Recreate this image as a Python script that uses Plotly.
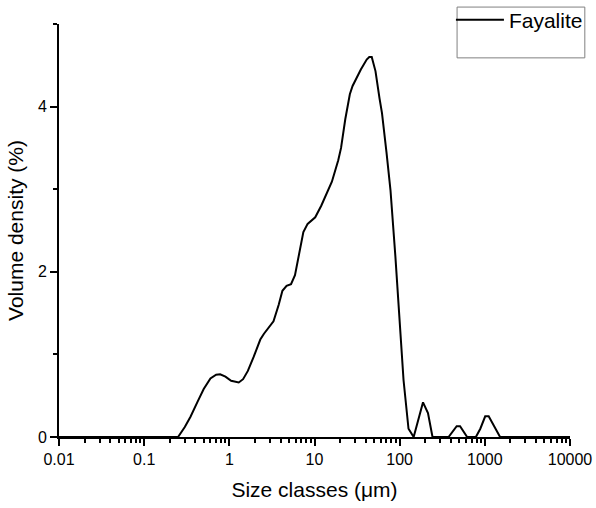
import plotly.graph_objects as go

size_um = [0.01, 0.25, 0.30, 0.35, 0.42, 0.50, 0.60, 0.70, 0.78, 0.90, 1.05, 1.29, 1.45, 1.65, 1.93, 2.31, 2.55, 2.9, 3.3,
           3.8, 4.2, 4.7, 5.3, 5.9, 6.6, 7.4, 8.3, 9.2, 10.2, 12.0, 14.0, 16.0, 19.0, 20.5, 23.0,
           26.0, 28.0, 31.0, 35.0, 41.0, 44.0, 47.0, 52.0, 58.0, 62.0, 70.0, 78.0, 89.0, 100.0,
           111.0, 127.0, 146.0, 188.0, 215.0, 243.0, 375.0, 467.0, 512.0, 620.0, 785.0, 885.0, 1010.0,
           1110.0, 1510.0, 10000.0]
volume_pct = [0.0, 0.0, 0.12, 0.245, 0.42, 0.58, 0.71, 0.755, 0.76, 0.73, 0.68, 0.66, 0.70, 0.80, 0.97, 1.18, 1.25, 1.32, 1.40,
              1.60, 1.77, 1.83, 1.85, 1.96, 2.20, 2.48, 2.58, 2.62, 2.66, 2.80, 2.95, 3.09, 3.35, 3.50, 3.85,
              4.15, 4.25, 4.35, 4.45, 4.57, 4.60, 4.60, 4.43, 4.10, 3.92, 3.45, 2.99, 2.19, 1.41,
              0.69, 0.10, 0.0, 0.42, 0.29, 0.0, 0.0, 0.13, 0.13, 0.0, 0.0, 0.10, 0.25,
              0.25, 0.0, 0.0]

x_tick_vals = [0.01, 0.1, 1, 10, 100, 1000, 10000]
x_tick_text = ["0.01", "0.1", "1", "10", "100", "1000", "10000"]
x_minor_vals = [m * d for d in [0.01, 0.1, 1, 10, 100, 1000] for m in range(2, 10)]

FONT = "Liberation Sans, Arial, sans-serif"

fig = go.Figure()
fig.add_trace(go.Scatter(x=size_um, y=volume_pct, mode="lines", name="Fayalite",
                         line=dict(color="black", width=2)))

# legend frame (taller than the single entry, as in the original)
fig.add_shape(type="rect", xref="paper", yref="paper",
              x0=0.779, x1=1.029, y0=0.918, y1=1.041,
              line=dict(color="#808080", width=1), fillcolor="rgba(0,0,0,0)", layer="above")

fig.update_layout(
    width=596, height=508,
    margin=dict(l=59, r=26, t=24, b=71, autoexpand=False),
    paper_bgcolor="white", plot_bgcolor="white",
    font=dict(family=FONT, color="black", size=16),
    showlegend=True,
    legend=dict(x=0.767, y=1.0097, xanchor="left", yanchor="middle",
                borderwidth=0, bgcolor="rgba(255,255,255,0)",
                font=dict(size=21), itemwidth=48),
    xaxis=dict(type="log", range=[-2, 4], showgrid=False, zeroline=False,
               showline=True, linecolor="black", linewidth=2,
               tickmode="array", tickvals=x_tick_vals, ticktext=x_tick_text,
               ticks="outside", ticklen=7, tickwidth=2, tickcolor="black",
               tickfont=dict(size=16),
               minor=dict(tickmode="array", tickvals=x_minor_vals, ticks="outside",
                          ticklen=4, tickwidth=2, tickcolor="black"),
               title=dict(text="Size classes (\u03bcm)", font=dict(size=21), standoff=15)),
    yaxis=dict(range=[0, 5], showgrid=False, zeroline=False,
               showline=True, linecolor="black", linewidth=2,
               tickmode="linear", tick0=0, dtick=2,
               ticks="outside", ticklen=7, tickwidth=2, tickcolor="black",
               tickfont=dict(size=16),
               minor=dict(tick0=0, dtick=1, ticks="outside", ticklen=4, tickwidth=2, tickcolor="black"),
               title=dict(text="Volume density (%)", font=dict(size=21), standoff=9)),
)

fig.write_html("out.html")
